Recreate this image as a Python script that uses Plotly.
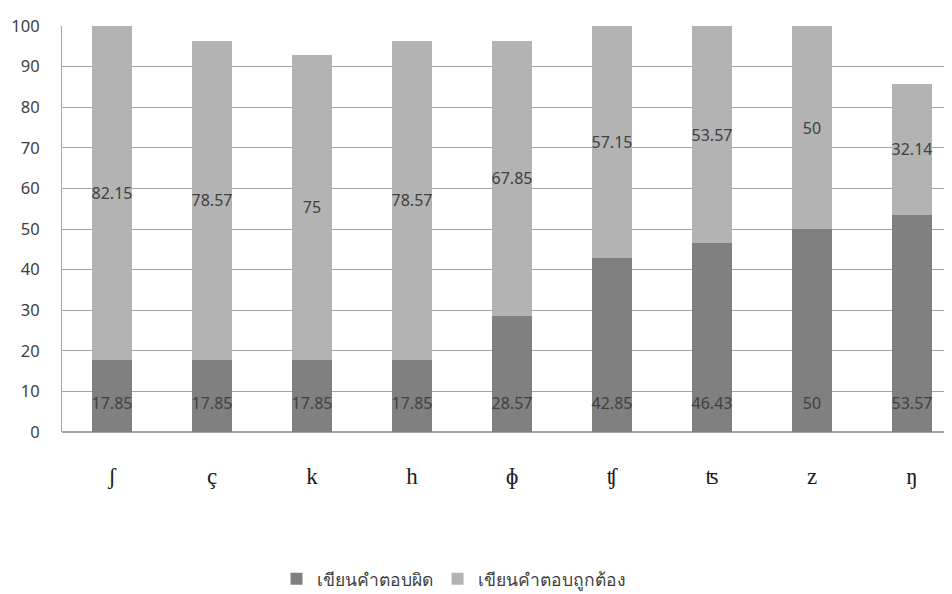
import plotly.graph_objects as go

categories = ["ʃ", "ç", "k", "h", "ɸ", "ʧ", "ʦ", "z", "ŋ"]
wrong = [17.85, 17.85, 17.85, 17.85, 28.57, 42.85, 46.43, 50, 53.57]
correct = [82.15, 78.57, 75, 78.57, 67.85, 57.15, 53.57, 50, 32.14]
wrong_labels = ["17.85", "17.85", "17.85", "17.85", "28.57", "42.85", "46.43", "50", "53.57"]
correct_labels = ["82.15", "78.57", "75", "78.57", "67.85", "57.15", "53.57", "50", "32.14"]
y_ticks = [0, 10, 20, 30, 40, 50, 60, 70, 80, 90, 100]

label_font = dict(family="Noto Sans, DejaVu Sans, sans-serif", size=16, color="#404040")
LABEL_BASE = 6.6  # Excel "inside base" label height

fig = go.Figure()
fig.add_trace(go.Bar(
    x=categories, y=wrong, name="เขียนคำตอบผิด",
    marker=dict(color="#808080", line=dict(width=0)),
))
fig.add_trace(go.Bar(
    x=categories, y=correct, name="เขียนคำตอบถูกต้อง",
    marker=dict(color="#b3b3b3", line=dict(width=0)),
    text=correct_labels, textposition="inside", insidetextanchor="middle",
    textangle=0, textfont=label_font, constraintext="none",
))
fig.add_trace(go.Scatter(
    x=categories, y=[LABEL_BASE] * len(categories), mode="text",
    text=wrong_labels, textfont=label_font, showlegend=False, hoverinfo="skip",
))

fig.update_layout(
    barmode="stack", bargap=0.6,
    width=952, height=594,
    margin=dict(l=54, r=8, t=18, b=170, autoexpand=False),
    plot_bgcolor="white", paper_bgcolor="white",
    font=dict(family="Noto Sans, DejaVu Sans, sans-serif", color="#404040"),
    legend=dict(
        orientation="h", xref="container", x=0.468, xanchor="center",
        y=-0.362, yanchor="middle", font=dict(size=17.5, color="#404040"),
        traceorder="normal", itemwidth=30,
    ),
    xaxis=dict(
        range=[-0.5, 8.4], showgrid=False, showline=False, automargin=False,
        tickfont=dict(family="Liberation Serif, Times New Roman, serif", size=23, color="#202020"),
        ticks="", ticklabelstandoff=28,
    ),
    yaxis=dict(
        range=[0, 100], tickvals=y_ticks, showgrid=True, gridcolor="#a6a6a6", gridwidth=1,
        showline=True, linecolor="#a6a6a6", zeroline=True, zerolinecolor="#a6a6a6",
        automargin=False,
        tickfont=dict(size=16.5, color="#404040"), ticks="", ticklabelstandoff=18,
    ),
)
fig.write_html("out.html")
